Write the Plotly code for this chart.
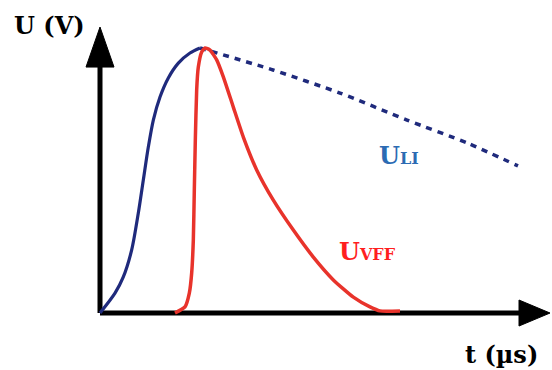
import plotly.graph_objects as go

# Lightning impulse U_LI: front (solid) and tail (dotted), time in µs, voltage normalised to peak
li_front_t = [0, 3.75, 5.83, 7.92, 9.58, 10.83, 12.08, 13.33, 15.0, 17.08, 19.58, 22.5, 25]
li_front_u = [0, 0.075, 0.136, 0.238, 0.377, 0.502, 0.626, 0.728, 0.815, 0.887, 0.943, 0.981, 1.0]
li_tail_t = [25, 43.25, 60, 76.75, 91.75, 104.5]
li_tail_u = [1.0, 0.917, 0.830, 0.728, 0.642, 0.555]

# Very fast front transient U_VFF
vff_t = [18.75, 21.25, 22.33, 22.92, 23.33, 23.58, 23.83, 24.17, 24.58, 25.42, 26.25,
         27.5, 29.17, 30.83, 33.33, 35.83, 39.17, 43.33, 48.33, 53.33, 58.33, 63.33,
         67.5, 70, 75]
vff_u = [0, 0.023, 0.075, 0.151, 0.275, 0.464, 0.653, 0.842, 0.928, 0.985, 1.0,
         0.992, 0.955, 0.891, 0.777, 0.664, 0.540, 0.426, 0.313, 0.211, 0.125, 0.060,
         0.023, 0.008, 0.008]

X_RANGE = [-25, 113]
Y_RANGE = [-0.215, 1.181]

NAVY = "#1f2a7c"
RED = "#e8332b"
SERIF = "DejaVu Serif"

fig = go.Figure()

fig.add_trace(go.Scatter(x=li_front_t, y=li_front_u, mode="lines",
                         line=dict(color=NAVY, width=3.2, shape="spline", smoothing=0.8),
                         hoverinfo="skip"))
fig.add_trace(go.Scatter(x=li_tail_t, y=li_tail_u, mode="lines",
                         line=dict(color=NAVY, width=3.5, dash="6px,6px",
                                   shape="spline", smoothing=0.6),
                         hoverinfo="skip"))
fig.add_trace(go.Scatter(x=vff_t, y=vff_u, mode="lines",
                         line=dict(color=RED, width=3.5, shape="spline", smoothing=0.5),
                         hoverinfo="skip"))

# axes with arrowheads
px_t = (X_RANGE[1] - X_RANGE[0]) / 552
px_u = (Y_RANGE[1] - Y_RANGE[0]) / 370
shapes = [
    dict(type="line", x0=0, y0=0, x1=0, y1=0.95, line=dict(color="black", width=5)),
    dict(type="line", x0=0, y0=0, x1=106, y1=0, line=dict(color="black", width=5)),
    dict(type="path",
         path=f"M {-14*px_t},{0.928} L 0,{1.079} L {14*px_t},{0.928} Z",
         fillcolor="black", line=dict(color="black", width=1)),
    dict(type="path",
         path=f"M {104.75},{13*px_u} L {112.5},0 L {104.75},{-13*px_u} Z",
         fillcolor="black", line=dict(color="black", width=1)),
]
for s in shapes:
    s.update(xref="x", yref="y", layer="below" if s["type"] == "line" else "above")

annotations = [
    dict(x=-22, y=1.083, text="<b>U (V)</b>", xanchor="left", yanchor="middle",
         font=dict(family=SERIF, size=24, color="black")),
    dict(x=110, y=-0.155, text="<b>t (µs)</b>", xanchor="right", yanchor="middle",
         font=dict(family=SERIF, size=24, color="black")),
    dict(x=69.25, y=0.595, text="<b>U<span style='font-size:16px'>LI</span></b>",
         xanchor="left", yanchor="middle",
         font=dict(family=SERIF, size=24, color="#2c6bb3")),
    dict(x=59.25, y=0.232, text="<b>U<span style='font-size:16px'>VFF</span></b>",
         xanchor="left", yanchor="middle",
         font=dict(family=SERIF, size=24, color="#ff1f1f")),
]
for a in annotations:
    a.update(xref="x", yref="y", showarrow=False)

fig.update_layout(
    width=552, height=370,
    margin=dict(l=0, r=0, t=0, b=0),
    paper_bgcolor="white", plot_bgcolor="white",
    showlegend=False,
    xaxis=dict(range=X_RANGE, visible=False, fixedrange=True),
    yaxis=dict(range=Y_RANGE, visible=False, fixedrange=True),
    shapes=shapes,
    annotations=annotations,
)

fig.write_html("out.html")
